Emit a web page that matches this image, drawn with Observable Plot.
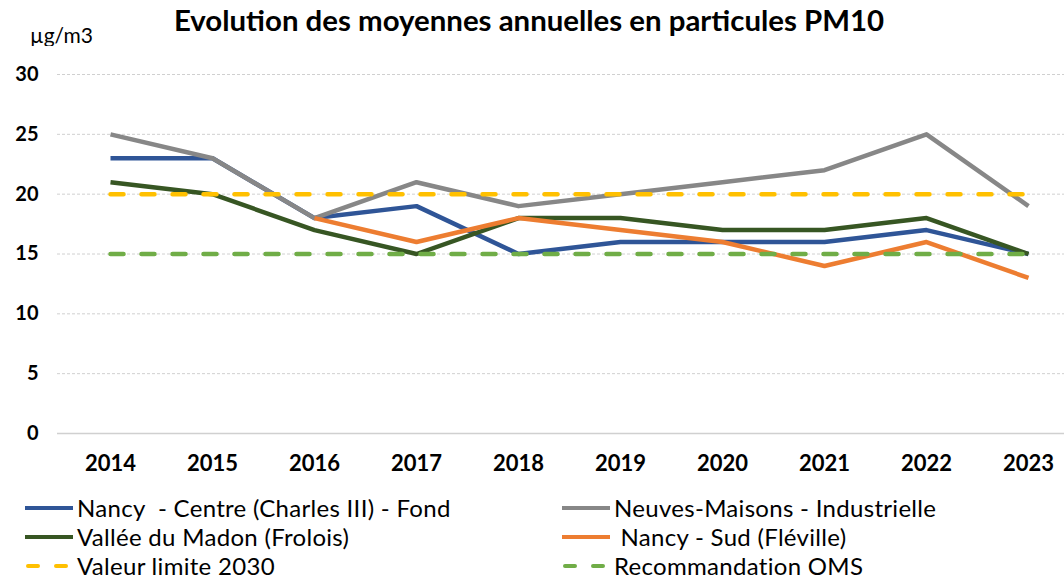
<!DOCTYPE html>
<html><head><meta charset="utf-8">
<script src="https://cdn.jsdelivr.net/npm/d3@7"></script>
<script src="https://cdn.jsdelivr.net/npm/@observablehq/plot@0.6"></script>
<style>
body{margin:0;background:#fff;font-family:Lato,"DejaVu Sans",sans-serif;}
#wrap{position:relative;width:1064px;height:580px;overflow:hidden;}
#title{position:absolute;left:-3px;top:2px;width:1064px;text-align:center;font-weight:bold;font-size:29.4px;color:#000;line-height:36px;}
#unit{position:absolute;left:30px;top:22px;font-size:21px;color:#000;line-height:26px;}
#chart{position:absolute;left:0;top:46px;}
.leg{position:absolute;display:flex;align-items:center;font-size:24px;letter-spacing:0.3px;color:#000;white-space:pre;height:29px;line-height:29px;}
.leg svg{margin-right:4px;}
</style></head>
<body><div id="wrap">
<div id="title">Evolution des moyennes annuelles en particules PM10</div>
<div id="unit">µg/m3</div>
<div id="chart"></div>
<div id="legend"></div>
</div>
<script>
const years = ["2014","2015","2016","2017","2018","2019","2020","2021","2022","2023"];
const yTicks = [0,5,10,15,20,25,30];
const seriesNames = ["Nancy  - Centre (Charles III) - Fond","Neuves-Maisons - Industrielle","Vallée du Madon (Frolois)"," Nancy - Sud (Fléville)","Valeur limite 2030","Recommandation OMS"];
const nancyCentre   = [23,23,18,19,15,16,16,16,17,15];
const neuvesMaisons = [25,23,18,21,19,20,21,22,25,19];
const valleeMadon   = [21,20,17,15,18,18,17,17,18,15];
const nancySud      = [null,null,18,16,18,17,16,14,16,13];
const valeurLimite  = [20,20,20,20,20,20,20,20,20,20];
const recoOMS       = [15,15,15,15,15,15,15,15,15,15];
const colors = ["#2F5597","#878787","#375623","#ED7D31","#FFC000","#70AD47"];
const dashed = [false,false,false,false,true,true];
const allSeries = [nancyCentre,neuvesMaisons,valleeMadon,nancySud,valeurLimite,recoOMS];

const data = [];
allSeries.forEach((vals,i)=>vals.forEach((v,j)=>data.push({series:seriesNames[i],year:years[j],value:v})));

const lineMarks = seriesNames.map((name,i)=>Plot.line(data.filter(d=>d.series===name),{
  x:"year",y:"value",stroke:colors[i],strokeWidth:4.5,
  strokeDasharray:dashed[i]?"13,18":null,
  strokeLinecap:dashed[i]?"round":"butt",strokeLinejoin:"round"
}));

const chart = Plot.plot({
  width:1064,height:440,
  marginTop:28,marginBottom:53,marginLeft:57,marginRight:0,
  style:{fontFamily:"Lato, sans-serif",background:"#fff",color:"#000"},
  x:{type:"point",domain:years,range:[110,1028],padding:0,label:null},
  y:{domain:[0,30],ticks:yTicks,label:null},
  marks:[
    Plot.ruleY(yTicks.filter(t=>t>0),{stroke:"#d0d0d0",strokeWidth:1,strokeDasharray:"3,2"}),
    Plot.ruleY([0],{stroke:"#d0d0d0",strokeWidth:1.5}),
    Plot.axisY({ticks:yTicks,tickSize:0,tickPadding:19,fontSize:20,fontWeight:"bold",label:null}),
    Plot.axisX({tickSize:0,tickPadding:22,fontSize:22,fontWeight:"bold",label:null}),
    ...lineMarks
  ]
});
document.getElementById("chart").appendChild(chart);

// legend (row centers 507.5, 536.5, 565.5)
const legPos = [[25,493],[562,493],[25,522],[562,522],[25,551],[562,551]];
const legend = document.getElementById("legend");
[0,1,2,3,4,5].forEach(i=>{
  const div = document.createElement("div");
  div.className="leg";
  div.style.left=legPos[i][0]+"px";
  div.style.top=legPos[i][1]+"px";
  const dash = dashed[i] ? `stroke-dasharray="10,18" stroke-linecap="round"` : "";
  div.innerHTML = `<svg width="48" height="10"><line x1="${dashed[i]?3:0}" y1="5" x2="${dashed[i]?45:48}" y2="5" stroke="${colors[i]}" stroke-width="4" ${dash}/></svg><span></span>`;
  div.querySelector("span").textContent = seriesNames[i];
  legend.appendChild(div);
});
</script>
</body></html>
